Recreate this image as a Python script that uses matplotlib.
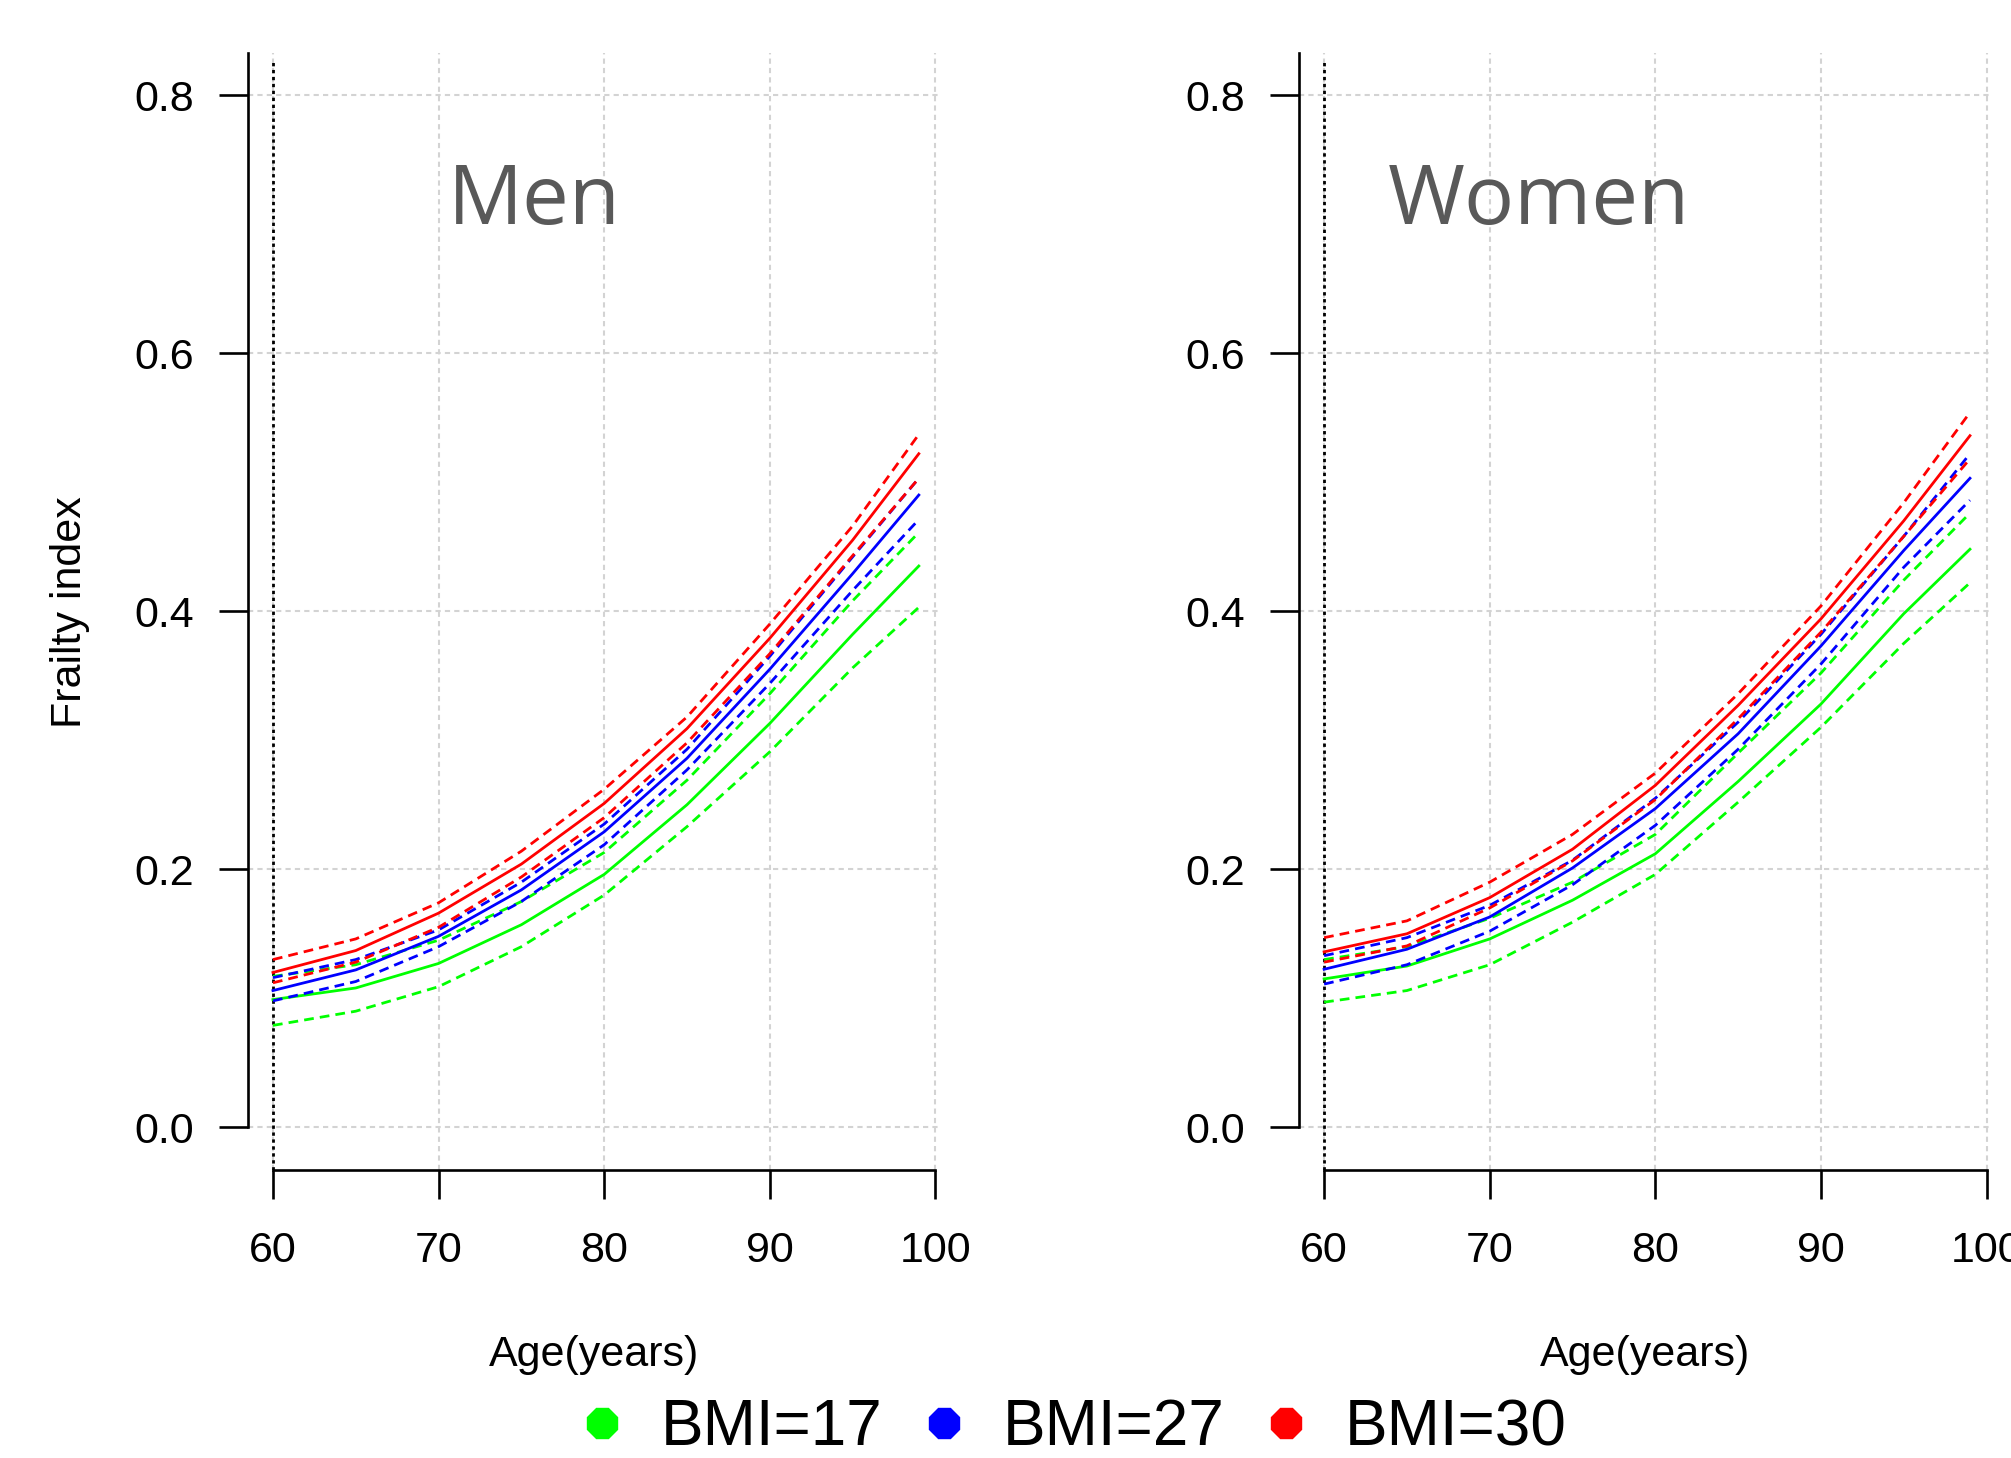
import matplotlib.pyplot as plt
from matplotlib.lines import Line2D

plt.rcParams['font.family'] = ['Liberation Sans', 'DejaVu Sans']

ages = [60, 65, 70, 75, 80, 85, 90, 95, 99]

# Men: fitted frailty index and 95% band, per BMI
men_bmi17_mid = [0.099, 0.108, 0.127, 0.157, 0.196, 0.250, 0.313, 0.382, 0.435]
men_bmi17_hi = [0.117, 0.126, 0.145, 0.175, 0.213, 0.269, 0.336, 0.408, 0.461]
men_bmi17_lo = [0.079, 0.090, 0.109, 0.140, 0.180, 0.233, 0.291, 0.356, 0.403]
men_bmi27_mid = [0.106, 0.122, 0.148, 0.184, 0.229, 0.286, 0.355, 0.429, 0.490]
men_bmi27_hi = [0.116, 0.130, 0.153, 0.190, 0.235, 0.293, 0.365, 0.442, 0.503]
men_bmi27_lo = [0.098, 0.113, 0.140, 0.175, 0.219, 0.277, 0.344, 0.416, 0.471]
men_bmi30_mid = [0.120, 0.137, 0.166, 0.204, 0.251, 0.309, 0.379, 0.455, 0.522]
men_bmi30_hi = [0.130, 0.146, 0.174, 0.214, 0.262, 0.318, 0.390, 0.466, 0.537]
men_bmi30_lo = [0.112, 0.128, 0.155, 0.194, 0.240, 0.298, 0.367, 0.443, 0.503]

# Women
women_bmi17_mid = [0.115, 0.125, 0.146, 0.176, 0.212, 0.268, 0.328, 0.398, 0.448]
women_bmi17_hi = [0.130, 0.140, 0.162, 0.190, 0.227, 0.290, 0.352, 0.424, 0.476]
women_bmi17_lo = [0.097, 0.106, 0.126, 0.159, 0.196, 0.252, 0.310, 0.375, 0.422]
women_bmi27_mid = [0.1225, 0.138, 0.163, 0.201, 0.247, 0.305, 0.373, 0.447, 0.503]
women_bmi27_hi = [0.133, 0.147, 0.172, 0.207, 0.255, 0.314, 0.382, 0.458, 0.522]
women_bmi27_lo = [0.111, 0.126, 0.152, 0.188, 0.234, 0.293, 0.359, 0.434, 0.486]
women_bmi30_mid = [0.136, 0.150, 0.178, 0.2155, 0.265, 0.327, 0.394, 0.470, 0.536]
women_bmi30_hi = [0.147, 0.160, 0.190, 0.227, 0.2745, 0.336, 0.404, 0.484, 0.554]
women_bmi30_lo = [0.128, 0.1406, 0.170, 0.2065, 0.254, 0.3166, 0.3837, 0.458, 0.518]

bmi_labels = ['BMI=17', 'BMI=27', 'BMI=30']
bmi_colors = ['#00ff00', '#0000ff', '#ff0000']

yticks = [0.0, 0.2, 0.4, 0.6, 0.8]
xticks = [60, 70, 80, 90, 100]


def draw_panel(ax, curves, title, title_x):
    ax.set_xlim(58.49, 100.3)
    ax.set_ylim(-0.0331, 0.8325)
    ax.set_axisbelow(True)
    ax.grid(True, color='#d3d3d3', linestyle=(0, (2.5, 2)), lw=1.5)
    ax.axvline(60, color='black', lw=2.0, linestyle=(0, (1.2, 1.3)), ymax=0.995)

    for (mid, lo, hi), c in zip(curves, bmi_colors):
        ax.plot(ages, mid, color=c, lw=2.0)
        ax.plot(ages, lo, color=c, lw=2.0, linestyle=(0, (3.5, 2.2)))
        ax.plot(ages, hi, color=c, lw=2.0, linestyle=(0, (3.5, 2.2)))

    for s in ['top', 'right']:
        ax.spines[s].set_visible(False)
    ax.spines['left'].set_bounds(0, 0.8325)
    ax.spines['bottom'].set_bounds(60, 100)
    for s in ['left', 'bottom']:
        ax.spines[s].set_linewidth(1.9)

    ax.set_xticks(xticks)
    ax.set_yticks(yticks)
    ax.set_yticklabels(['%.1f' % v for v in yticks])
    ax.tick_params(axis='both', length=21, width=1.9, labelsize=31)
    ax.tick_params(axis='x', pad=23)
    ax.tick_params(axis='y', pad=18)

    ax.text(title_x, 0.866, title, transform=ax.transAxes, fontsize=60,
            color='#595959', family='Open Sans', ha='left', va='center')


fig = plt.figure(figsize=(20.11, 14.58), dpi=100)
ax1 = fig.add_axes([0.1233, 0.1975, 0.3443, 0.7661])
ax2 = fig.add_axes([0.6460, 0.1975, 0.3443, 0.7661])

draw_panel(ax1, [(men_bmi17_mid, men_bmi17_lo, men_bmi17_hi),
                 (men_bmi27_mid, men_bmi27_lo, men_bmi27_hi),
                 (men_bmi30_mid, men_bmi30_lo, men_bmi30_hi)], 'Men', 0.289)
draw_panel(ax2, [(women_bmi17_mid, women_bmi17_lo, women_bmi17_hi),
                 (women_bmi27_mid, women_bmi27_lo, women_bmi27_hi),
                 (women_bmi30_mid, women_bmi30_lo, women_bmi30_hi)], 'Women', 0.128)

fig.text(594 / 2011, 1 - 1355 / 1458, 'Age(years)', ha='center', va='center', fontsize=31)
fig.text(1645 / 2011, 1 - 1355 / 1458, 'Age(years)', ha='center', va='center', fontsize=31)
fig.text(70 / 2011, 0.58, 'Frailty index', ha='center', va='center', rotation=90, fontsize=31)

handles = [Line2D([0], [0], marker='8', linestyle='none', color=c, markersize=24)
           for c in bmi_colors]
fig.legend(handles, bmi_labels, loc='center', bbox_to_anchor=(0.5346, 0.0205), ncol=3,
           frameon=False, fontsize=46, handlelength=0.6, handletextpad=0.62,
           columnspacing=0.66, borderpad=0, borderaxespad=0)

fig.savefig('out.png', dpi=100)
